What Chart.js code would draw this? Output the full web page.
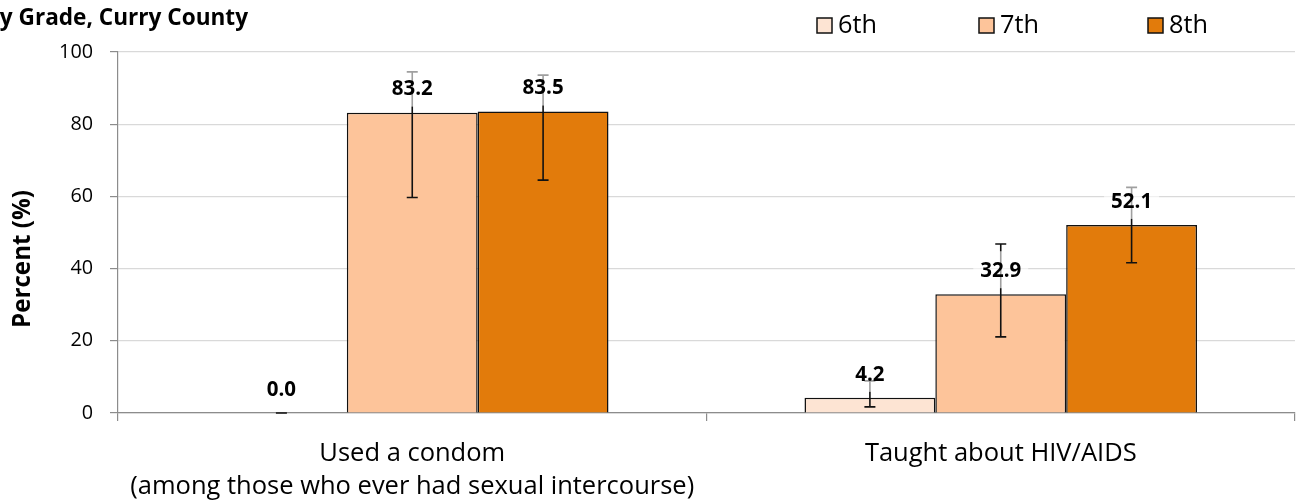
<!DOCTYPE html>
<html>
<head>
<meta charset="utf-8">
<script src="https://cdn.jsdelivr.net/npm/chart.js@4.4.1/dist/chart.umd.min.js"></script>
<style>
  html, body { margin: 0; padding: 0; background: #ffffff; }
  #wrap { width: 1297px; height: 504px; position: relative; }
</style>
</head>
<body>
<div id="wrap"><canvas id="c" width="1297" height="504"></canvas></div>
<script>
const chartTitle = "By Grade, Curry County";
const yAxisTitle = "Percent (%)";
const categories = [["Used a condom", "(among those who ever had sexual intercourse)"], ["Taught about HIV/AIDS"]];
const seriesNames = ["6th", "7th", "8th"];
const grade6 = [0.0, 4.2];
const grade7 = [83.2, 32.9];
const grade8 = [83.5, 52.1];
const grade6Low = [0.0, 1.7];
const grade6High = [0.0, 8.9];
const grade7Low = [59.7, 21.1];
const grade7High = [94.5, 46.8];
const grade8Low = [64.5, 41.6];
const grade8High = [93.6, 62.5];
const yTicks = [0, 20, 40, 60, 80, 100];

const colors = ["#FDE4D3", "#FDC49A", "#E27B0B"];
const FONT = "'Open Sans', Lato, sans-serif";

// size fonts so that rendered widths match the reference
const mctx = document.createElement("canvas").getContext("2d");
function fit(text, weight, target) {
  mctx.font = weight + " 100px " + FONT;
  return Math.round(1000 * target / mctx.measureText(text).width) / 10;
}
const titleSize = fit("y Grade, Curry County", "bold", 248);
const catSize = fit("(among those who ever had sexual intercourse)", "normal", 563);
const tickSize = fit("100", "normal", 34);
const yTitleSize = fit(yAxisTitle, "bold", 138);
const labelSize = fit("83.2", "bold", 41);
const legendSize = fit("7th", "normal", 39);

const errLow = [grade6Low, grade7Low, grade8Low];
const errHigh = [grade6High, grade7High, grade8High];

const errorAndLabels = {
  id: "errorAndLabels",
  afterDatasetsDraw(chart) {
    const ctx = chart.ctx;
    const ys = chart.scales.y;
    ctx.save();
    chart.data.datasets.forEach((ds, di) => {
      const meta = chart.getDatasetMeta(di);
      meta.data.forEach((bar, i) => {
        const x = bar.x;
        const yl = ys.getPixelForValue(errLow[di][i]);
        const yh = ys.getPixelForValue(errHigh[di][i]);
        ctx.strokeStyle = "#111";
        ctx.lineWidth = 1.6;
        ctx.beginPath();
        ctx.moveTo(x, yl); ctx.lineTo(x, yh);
        ctx.moveTo(x - 5.5, yl); ctx.lineTo(x + 5.5, yl);
        ctx.moveTo(x - 5.5, yh); ctx.lineTo(x + 5.5, yh);
        ctx.stroke();
      });
    });
    ctx.font = "bold " + labelSize + "px " + FONT;
    ctx.textAlign = "center";
    ctx.textBaseline = "middle";
    chart.data.datasets.forEach((ds, di) => {
      const meta = chart.getDatasetMeta(di);
      meta.data.forEach((bar, i) => {
        const txt = ds.data[i].toFixed(1);
        const x = bar.x;
        const y = bar.y - 24;
        const w = ctx.measureText(txt).width + 14;
        ctx.fillStyle = "rgba(255,255,255,0.6)";
        ctx.fillRect(x - w / 2, y - 19, w, 37);
        ctx.fillStyle = "#000";
        ctx.fillText(txt, x, y + 1);
      });
    });
    ctx.restore();
  }
};

const titleLegend = {
  id: "titleLegend",
  afterDraw(chart) {
    const ctx = chart.ctx;
    ctx.save();
    ctx.font = "bold " + titleSize + "px " + FONT;
    ctx.fillStyle = "#000";
    ctx.textAlign = "right";
    ctx.textBaseline = "alphabetic";
    ctx.fillText(chartTitle, 248, 25);
    // y axis title
    ctx.save();
    ctx.translate(23, 259);
    ctx.rotate(-Math.PI / 2);
    ctx.textAlign = "center";
    ctx.textBaseline = "middle";
    ctx.font = "bold " + yTitleSize + "px " + FONT;
    ctx.fillText(yAxisTitle, 0, 0);
    ctx.restore();
    // legend
    const xs = [817, 979, 1148];
    ctx.font = legendSize + "px " + FONT;
    ctx.textAlign = "left";
    ctx.textBaseline = "middle";
    seriesNames.forEach((n, k) => {
      ctx.fillStyle = colors[k];
      ctx.fillRect(xs[k], 18, 15, 15);
      ctx.strokeStyle = "#111";
      ctx.lineWidth = 1.5;
      ctx.strokeRect(xs[k], 18, 15, 15);
      ctx.fillStyle = "#000";
      ctx.fillText(n, xs[k] + 21, 26);
    });
    ctx.restore();
  }
};

new Chart(document.getElementById("c"), {
  type: "bar",
  data: {
    labels: categories,
    datasets: [
      { label: seriesNames[0], data: grade6, backgroundColor: colors[0] },
      { label: seriesNames[1], data: grade7, backgroundColor: colors[1] },
      { label: seriesNames[2], data: grade8, backgroundColor: colors[2] }
    ].map(d => Object.assign(d, { borderColor: "#111", borderWidth: 1.5, categoryPercentage: 0.667, barPercentage: 1.0 }))
  },
  options: {
    responsive: false,
    animation: false,
    layout: { padding: { left: 0, right: 2, top: 52, bottom: 0 } },
    plugins: { legend: { display: false }, tooltip: { enabled: false }, title: { display: false } },
    scales: {
      x: {
        grid: { display: true, drawOnChartArea: false, offset: true, tickLength: 8, tickColor: "#8c8c8c", lineWidth: 1.2 },
        border: { color: "#8c8c8c", width: 1.2 },
        ticks: { color: "#000", font: { family: FONT, size: catSize, lineHeight: 33 / catSize }, padding: 16, maxRotation: 0 },
        afterFit(s) { s.height = 91; }
      },
      y: {
        min: 0, max: 100,
        afterBuildTicks(s) { s.ticks = yTicks.map(v => ({ value: v })); },
        grid: { color: "#d9d9d9", lineWidth: 1.2, tickLength: 8, tickColor: "#8c8c8c" },
        border: { color: "#8c8c8c", width: 1.2 },
        ticks: { color: "#000", font: { family: FONT, size: tickSize }, padding: 17 },
        afterFit(s) { s.width = 118; }
      }
    }
  },
  plugins: [errorAndLabels, titleLegend]
});
</script>
</body>
</html>
